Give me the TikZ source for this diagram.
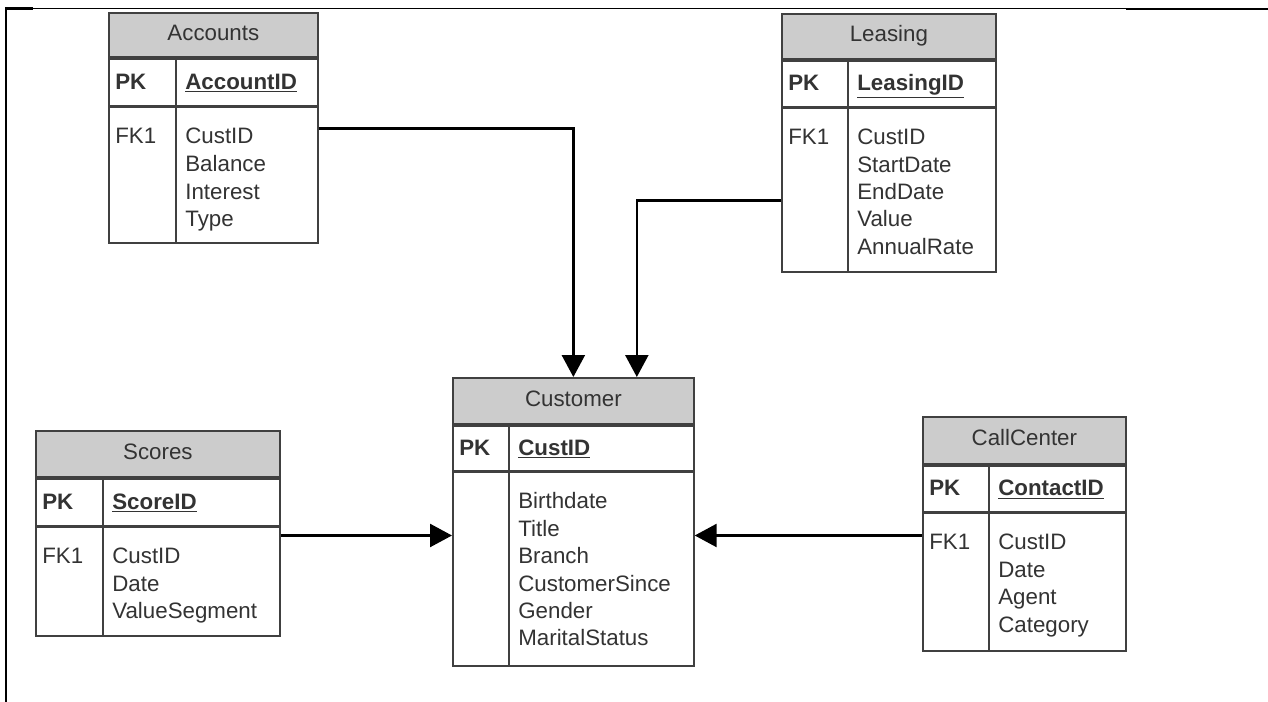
\documentclass[tikz,border=0pt]{standalone}
\usepackage{fontspec}
\setmainfont{Liberation Sans}
\usetikzlibrary{arrows.meta}

\begin{document}
\begin{tikzpicture}[
    x=0.02cm, y=-0.02cm,
    every node/.style={font=\fontsize{12.7}{15.7}\selectfont, text=black!80},
    tblhead/.style={draw=black!75, line width=1pt, fill=black!20, inner sep=0pt, anchor=north west, text height=6pt, text depth=0pt},
    tblrow/.style={draw=black!75, line width=1pt, fill=white, inner sep=0pt, anchor=north},
    divider/.style={draw=black!75, line width=1pt},
    txt/.style={inner sep=0pt, anchor=base west},
    keytxt/.style={txt, font=\fontsize{12.7}{15.7}\selectfont\bfseries},
    fk/.style={draw=black, line width=1.4pt, -{Triangle[length=0.44cm, width=0.46cm]}}
]
\path[fill=white] (0,0) rectangle (1268,702);
\useasboundingbox (0,0) rectangle (1268,702);

% frame
\draw[line width=0.7pt] (5,8.3) -- (1268,8.3);
\draw[line width=1.6pt] (5,8.7) -- (33,8.7);
\draw[line width=1.3pt] (1126,8.8) -- (1268,8.8);
\draw[line width=1.2pt] (6,8) -- (6,702);

% Accounts
\node[tblhead, minimum width=4.18cm, minimum height=0.88cm] (acc) at (108,12) {Accounts};
\node[tblrow, minimum width=4.18cm, minimum height=0.94cm] (acc-pk) at (acc.south) {};
\node[tblrow, minimum width=4.18cm, minimum height=2.72cm] (acc-body) at (acc-pk.south) {};
\draw[divider] ([xshift=1.36cm]acc-pk.north west) -- ([xshift=1.36cm]acc-body.south west);
\node[keytxt] (acc-pkl) at ([shift={(7,7)}]acc-pk.west) {PK};
\node[keytxt] (acc-id) at ([shift={(77,7)}]acc-pk.west) {\underline{AccountID}};
\node[txt] (acc-fkl) at ([shift={(7,37.5)}]acc-body.north west) {FK1};
\foreach \f [count=\i from 0] in {CustID, Balance, Interest, Type}
    \node[txt] (acc-f\i) at ([shift={(77,37.5+27.6*\i)}]acc-body.north west) {\f};

% Leasing
\node[tblhead, minimum width=4.28cm, minimum height=0.90cm] (lea) at (781,13) {Leasing};
\node[tblrow, minimum width=4.28cm, minimum height=0.92cm] (lea-pk) at (lea.south) {};
\node[tblrow, minimum width=4.28cm, minimum height=3.28cm] (lea-body) at (lea-pk.south) {};
\draw[divider] ([xshift=1.34cm]lea-pk.north west) -- ([xshift=1.34cm]lea-body.south west);
\node[keytxt] (lea-pkl) at ([shift={(7,7)}]lea-pk.west) {PK};
\node[keytxt] (lea-id) at ([shift={(76,7)}]lea-pk.west) {\underline{LeasingID}};
\node[txt] (lea-fkl) at ([shift={(7,37.5)}]lea-body.north west) {FK1};
\foreach \f [count=\i from 0] in {CustID, StartDate, EndDate, Value, AnnualRate}
    \node[txt] (lea-f\i) at ([shift={(76,37.5+27.3*\i)}]lea-body.north west) {\f};

% Customer
\node[tblhead, minimum width=4.82cm, minimum height=0.92cm] (cust) at (452,377) {Customer};
\node[tblrow, minimum width=4.82cm, minimum height=0.90cm] (cust-pk) at (cust.south) {};
\node[tblrow, minimum width=4.82cm, minimum height=3.88cm] (cust-body) at (cust-pk.south) {};
\draw[divider] ([xshift=1.14cm]cust-pk.north west) -- ([xshift=1.14cm]cust-body.south west);
\node[keytxt] (cust-pkl) at ([shift={(7,7)}]cust-pk.west) {PK};
\node[keytxt] (cust-id) at ([shift={(66,7)}]cust-pk.west) {\underline{CustID}};
\foreach \f [count=\i from 0] in {Birthdate, Title, Branch, CustomerSince, Gender, MaritalStatus}
    \node[txt] (cust-f\i) at ([shift={(66,37.5+27.4*\i)}]cust-body.north west) {\f};

% Scores
\node[tblhead, minimum width=4.88cm, minimum height=0.92cm] (sco) at (35,430) {Scores};
\node[tblrow, minimum width=4.88cm, minimum height=0.94cm] (sco-pk) at (sco.south) {};
\node[tblrow, minimum width=4.88cm, minimum height=2.18cm] (sco-body) at (sco-pk.south) {};
\draw[divider] ([xshift=1.36cm]sco-pk.north west) -- ([xshift=1.36cm]sco-body.south west);
\node[keytxt] (sco-pkl) at ([shift={(7,7)}]sco-pk.west) {PK};
\node[keytxt] (sco-id) at ([shift={(77,7)}]sco-pk.west) {\underline{ScoreID}};
\node[txt] (sco-fkl) at ([shift={(7,37.5)}]sco-body.north west) {FK1};
\foreach \f [count=\i from 0] in {CustID, Date, ValueSegment}
    \node[txt] (sco-f\i) at ([shift={(77,37.5+27.4*\i)}]sco-body.north west) {\f};

% CallCenter
\node[tblhead, minimum width=4.06cm, minimum height=0.94cm] (cal) at (922,416) {CallCenter};
\node[tblrow, minimum width=4.06cm, minimum height=0.92cm] (cal-pk) at (cal.south) {};
\node[tblrow, minimum width=4.06cm, minimum height=2.76cm] (cal-body) at (cal-pk.south) {};
\draw[divider] ([xshift=1.34cm]cal-pk.north west) -- ([xshift=1.34cm]cal-body.south west);
\node[keytxt] (cal-pkl) at ([shift={(7,7)}]cal-pk.west) {PK};
\node[keytxt] (cal-id) at ([shift={(76,7)}]cal-pk.west) {\underline{ContactID}};
\node[txt] (cal-fkl) at ([shift={(7,37.5)}]cal-body.north west) {FK1};
\foreach \f [count=\i from 0] in {CustID, Date, Agent, Category}
    \node[txt] (cal-f\i) at ([shift={(76,37.5+27.4*\i)}]cal-body.north west) {\f};

% foreign keys
\draw[fk] ([yshift=-0.44cm]acc-body.north east) -| (cust.north);
\draw[fk] ([yshift=-1.86cm]lea-body.north west) -| ([xshift=1.27cm]cust.north);
\draw[fk] ([yshift=-0.18cm]sco-body.north east) coordinate (sco-fk) -- (sco-fk -| cust-body.west);
\draw[fk] ([yshift=-0.46cm]cal-body.north west) coordinate (cal-fk) -- (cal-fk -| cust-body.east);
\end{tikzpicture}
\end{document}
